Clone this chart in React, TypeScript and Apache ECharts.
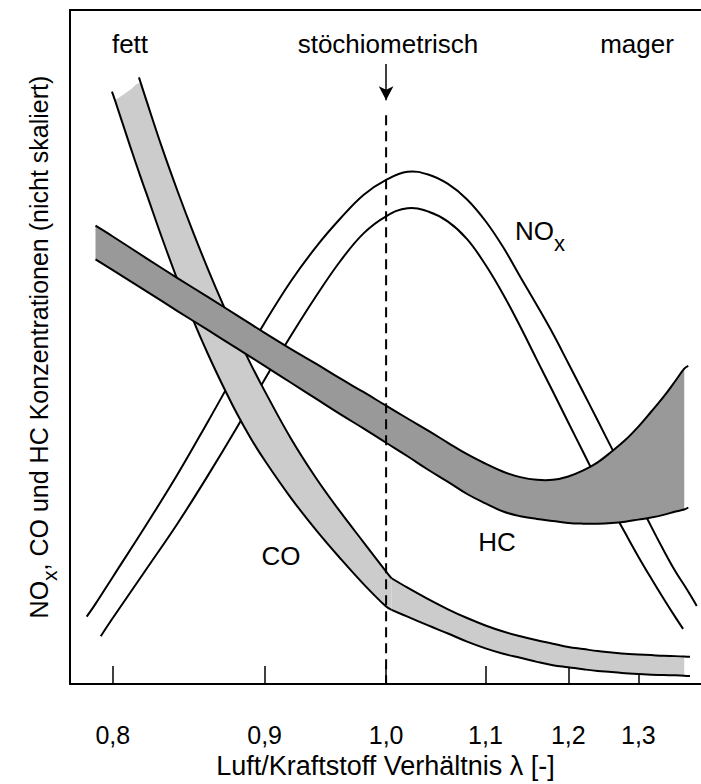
import React, { useEffect, useRef } from "react";
import * as echarts from "echarts";

const FONT = "'Liberation Sans', Arial, Helvetica, sans-serif";

// x axis (λ) – reciprocal scale
const tickLambdas = [0.8, 0.9, 1.0, 1.1, 1.2, 1.3];
const lambdaMin = 0.7757;
const lambdaMax = 1.4046;
const stoichLambda = 1.0;
const dashedTop = 84.4;
const arrowFrom = 92.0;
const arrowTo = 86.6;

// NOx (two outline curves)
const noxOuterLambda = [0.785, 0.79, 0.8, 0.82, 0.84, 0.86, 0.88, 0.9, 0.92, 0.94, 0.96, 0.98, 1.0, 1.02, 1.04, 1.06, 1.08, 1.1, 1.12, 1.14, 1.16, 1.18, 1.2, 1.22, 1.24, 1.26, 1.28, 1.3, 1.32, 1.34, 1.36, 1.38, 1.397];
const noxOuter = [10.0, 11.9, 15.9, 23.6, 31.2, 39.0, 46.6, 53.6, 59.8, 64.9, 69.1, 72.6, 74.8, 76.0, 75.6, 74.2, 71.9, 68.7, 64.8, 60.4, 56.2, 52.0, 47.6, 43.3, 39.1, 35.0, 31.1, 27.2, 23.4, 19.9, 16.7, 14.0, 11.6];
const noxInnerLambda = [0.793, 0.8, 0.82, 0.84, 0.86, 0.88, 0.9, 0.92, 0.94, 0.96, 0.98, 1.0, 1.02, 1.04, 1.06, 1.08, 1.1, 1.12, 1.14, 1.16, 1.18, 1.2, 1.22, 1.24, 1.26, 1.28, 1.3, 1.32, 1.34, 1.36, 1.373];
const noxInner = [7.1, 9.8, 17.0, 23.9, 31.0, 38.1, 45.2, 51.7, 57.6, 62.8, 66.9, 69.4, 70.6, 70.1, 68.6, 66.0, 62.2, 57.8, 53.0, 48.1, 43.4, 38.8, 34.4, 30.1, 26.1, 22.4, 18.9, 15.7, 12.7, 9.9, 8.2];

// CO band, rich side (λ <= 1.005)
const coRichLambda = [0.8013, 0.81, 0.8162, 0.82, 0.83, 0.84, 0.85, 0.86, 0.87, 0.88, 0.89, 0.9, 0.92, 0.94, 0.96, 0.98, 1.0, 1.005];
const coRichUpperFill = [86.6, 88.1, 89.1, 86.7, 79.5, 73.0, 67.0, 61.5, 56.4, 51.7, 47.4, 43.5, 36.4, 30.5, 25.5, 21.0, 16.7, 15.7];
const coRichLower = [86.6, 80.0, 75.5, 72.9, 66.1, 59.8, 54.0, 48.9, 44.3, 40.1, 36.4, 33.2, 27.6, 22.8, 18.6, 14.8, 11.5, 11.0];
const coRichLowerHeadLambda = [0.7995];
const coRichLowerHead = [87.9];
const coRichEdgeLambda = [0.8156, 0.82, 0.83, 0.84, 0.85, 0.86, 0.87, 0.88, 0.89, 0.9, 0.92, 0.94, 0.96, 0.98, 1.0, 1.005];
const coRichEdge = [90.0, 86.7, 79.5, 73.0, 67.0, 61.5, 56.4, 51.7, 47.4, 43.5, 36.4, 30.5, 25.5, 21.0, 16.7, 15.7];

// CO band, lean side (λ >= 1.005)
const coLeanLambda = [1.005, 1.02, 1.04, 1.06, 1.08, 1.1, 1.12, 1.14, 1.16, 1.18, 1.2, 1.22, 1.24, 1.26, 1.28, 1.3, 1.32, 1.34, 1.36, 1.375];
const coLeanUpper = [15.7, 14.3, 12.6, 11.1, 9.8, 8.7, 7.8, 7.1, 6.5, 6.0, 5.5, 5.2, 4.9, 4.7, 4.5, 4.4, 4.3, 4.2, 4.15, 4.1];
const coLeanLower = [11.0, 10.0, 8.7, 7.5, 6.3, 5.3, 4.5, 3.9, 3.3, 2.8, 2.5, 2.2, 1.95, 1.8, 1.6, 1.5, 1.4, 1.35, 1.3, 1.25];
const coLeanTailLambda = [1.385];
const coLeanUpperTail = [4.05];
const coLeanLowerTail = [1.2];

// HC band
const hcLambda = [0.79, 0.8, 0.82, 0.84, 0.86, 0.88, 0.9, 0.92, 0.94, 0.96, 0.98, 1.0, 1.02, 1.04, 1.06, 1.08, 1.1, 1.12, 1.14, 1.16, 1.18, 1.2, 1.22, 1.24, 1.26, 1.28, 1.3, 1.32, 1.34, 1.36, 1.375];
const hcUpper = [68.0, 66.4, 63.2, 60.2, 57.4, 54.7, 52.1, 49.7, 47.5, 45.3, 43.3, 41.3, 39.4, 37.6, 35.8, 34.1, 32.7, 31.5, 30.7, 30.3, 30.3, 30.8, 31.7, 32.9, 34.5, 36.2, 38.2, 40.4, 42.6, 45.0, 46.8];
const hcLower = [63.0, 61.4, 58.3, 55.3, 52.5, 49.8, 47.2, 44.7, 42.3, 40.0, 37.9, 35.8, 33.8, 31.8, 30.0, 28.2, 26.8, 25.6, 24.9, 24.5, 24.2, 23.9, 23.8, 23.8, 23.9, 24.1, 24.4, 24.7, 25.1, 25.6, 25.9];
const hcTailLambda = [1.382];
const hcUpperTail = [47.2];
const hcLowerTail = [26.2];

const toX = (l: number) => -1 / l;
const BLACK = "#000";
const LINE_W = 2;
const SMOOTH = 0.4;

// smooth cubic path through pixel points (same construction for fills and strokes)
function smoothD(p: number[][], start: string): string {
  const n = p.length;
  let d = `${start}${p[0][0]},${p[0][1]}`;
  let c0x = p[0][0];
  let c0y = p[0][1];
  for (let k = 1; k < n; k++) {
    const [x, y] = p[k];
    const [px, py] = p[k - 1];
    let c1x = x, c1y = y, n0x = x, n0y = y;
    if (k < n - 1) {
      const [nx, ny] = p[k + 1];
      const vx = nx - px;
      const vy = ny - py;
      const l0 = Math.hypot(x - px, y - py);
      const l1 = Math.hypot(nx - x, ny - y);
      const r = l1 / (l0 + l1);
      c1x = x - vx * SMOOTH * (1 - r);
      c1y = y - vy * SMOOTH * (1 - r);
      n0x = x + vx * SMOOTH * r;
      n0y = y + vy * SMOOTH * r;
    }
    d += ` C${c0x},${c0y} ${c1x},${c1y} ${x},${y}`;
    c0x = n0x;
    c0y = n0y;
  }
  return d;
}

function curveSeries(name: string, lambdas: number[], values: number[], z: number) {
  return {
    type: "custom",
    name,
    silent: true,
    z,
    clip: true,
    data: lambdas.map((l, i) => [toX(l), values[i]]),
    encode: { x: 0, y: 1 },
    renderItem: (params: any, api: any) => {
      if (params.dataIndexInside !== 0) return null;
      const p: number[][] = [];
      for (let i = 0; i < params.dataInsideLength; i++) {
        p.push(api.coord([api.value(0, i), api.value(1, i)]));
      }
      return {
        type: "path",
        shape: { pathData: smoothD(p, "M") },
        style: { fill: "none", stroke: BLACK, lineWidth: LINE_W, lineJoin: "round" },
      };
    },
  };
}

function bandSeries(name: string, lambdas: number[], upper: number[], lower: number[], color: string, z: number) {
  return {
    type: "custom",
    name,
    silent: true,
    z,
    clip: true,
    data: lambdas.map((l, i) => [toX(l), upper[i], lower[i]]),
    encode: { x: 0, y: [1, 2] },
    renderItem: (params: any, api: any) => {
      if (params.dataIndexInside !== 0) return null;
      const up: number[][] = [];
      const lo: number[][] = [];
      for (let i = 0; i < params.dataInsideLength; i++) {
        const t = api.value(0, i);
        up.push(api.coord([t, api.value(1, i)]));
        lo.push(api.coord([t, api.value(2, i)]));
      }
      const d = smoothD(up, "M") + " " + smoothD(lo.slice().reverse(), "L") + " Z";
      return {
        type: "path",
        shape: { pathData: d },
        style: { fill: color, stroke: "none" },
      };
    },
  };
}

export default function App() {
  const ref = useRef<HTMLDivElement>(null);
  useEffect(() => {
    if (!ref.current) return;
    const chart = echarts.init(ref.current, null, { renderer: "svg" });
    const tickValues = tickLambdas.map(toX);
    const option: any = {
      animation: false,
      backgroundColor: "#fff",
      textStyle: { fontFamily: FONT },
      grid: { left: 70, right: 0, top: 10, bottom: 87 },
      xAxis: [
        {
          type: "value",
          position: "bottom",
          min: toX(lambdaMin),
          max: toX(lambdaMax),
          axisLine: { show: true, onZero: false, lineStyle: { color: BLACK, width: 2 } },
          axisTick: { show: true, inside: true, length: 18, customValues: tickValues, lineStyle: { color: BLACK, width: 1.5 } },
          axisLabel: {
            customValues: tickValues,
            formatter: (v: number) => (-1 / v).toFixed(1).replace(".", ","),
            fontSize: 25,
            color: BLACK,
            fontFamily: FONT,
            margin: 38,
          },
          splitLine: { show: false },
          name: "Luft/Kraftstoff Verhältnis λ [-]",
          nameLocation: "middle",
          nameGap: 61,
          nameTextStyle: { fontSize: 27, color: BLACK, fontFamily: FONT },
        },
        {
          type: "value",
          position: "top",
          min: toX(lambdaMin),
          max: toX(lambdaMax),
          axisLine: { show: true, onZero: false, lineStyle: { color: BLACK, width: 2 } },
          axisTick: { show: false },
          axisLabel: { show: false },
          splitLine: { show: false },
        },
      ],
      yAxis: {
        type: "value",
        min: 0,
        max: 100,
        axisLine: { show: true, lineStyle: { color: BLACK, width: 2 } },
        axisTick: { show: false },
        axisLabel: { show: false },
        splitLine: { show: false },
        name: "{a|NO}{b|x}{a|, CO und HC Konzentrationen (nicht skaliert)}",
        nameLocation: "middle",
        nameRotate: 90,
        nameGap: 8,
        nameTextStyle: {
          color: BLACK,
          fontSize: 25,
          fontFamily: FONT,
          rich: {
            a: { fontSize: 25, color: BLACK, fontFamily: FONT, padding: [0, 0, 11, 0] },
            b: { fontSize: 21, color: BLACK, fontFamily: FONT, padding: [11, 0, 0, 0] },
          },
        },
      },
      series: [
        curveSeries("NOx oben", noxOuterLambda, noxOuter, 2),
        curveSeries("NOx unten", noxInnerLambda, noxInner, 2),
        // CO band
        bandSeries("CO fett Band", coRichLambda, coRichUpperFill, coRichLower, "#cccccc", 3),
        bandSeries("CO mager Band", coLeanLambda, coLeanUpper, coLeanLower, "#cccccc", 3),
        curveSeries("CO fett unten", [...coRichLowerHeadLambda, ...coRichLambda], [...coRichLowerHead, ...coRichLower], 4),
        curveSeries("CO fett oben", coRichEdgeLambda, coRichEdge, 4),
        curveSeries("CO mager unten", [...coLeanLambda, ...coLeanTailLambda], [...coLeanLower, ...coLeanLowerTail], 4),
        curveSeries("CO mager oben", [...coLeanLambda, ...coLeanTailLambda], [...coLeanUpper, ...coLeanUpperTail], 4),
        // HC band
        bandSeries("HC Band", hcLambda, hcUpper, hcLower, "#999999", 5),
        curveSeries("HC unten", [...hcLambda, ...hcTailLambda], [...hcLower, ...hcLowerTail], 6),
        curveSeries("HC oben", [...hcLambda, ...hcTailLambda], [...hcUpper, ...hcUpperTail], 6),
        {
          name: "stöchiometrisch",
          type: "line",
          data: [[toX(stoichLambda), dashedTop], [toX(stoichLambda), 0]],
          symbol: "none",
          silent: true,
          z: 7,
          lineStyle: { color: BLACK, width: 2, type: [10, 6] },
          markLine: {
            silent: true,
            symbol: ["none", "arrow"],
            symbolSize: [11, 14],
            label: { show: false },
            lineStyle: { color: BLACK, width: 1.5, type: "solid" },
            data: [[{ coord: [toX(stoichLambda), arrowFrom] }, { coord: [toX(stoichLambda), arrowTo] }]],
          },
        },
      ],
      graphic: [
        { type: "text", x: 130, y: 44, style: { text: "fett", fontSize: 26, fontFamily: FONT, fill: BLACK, align: "center", verticalAlign: "middle", textAlign: "center", textVerticalAlign: "middle" } },
        { type: "text", x: 388, y: 44, style: { text: "stöchiometrisch", fontSize: 26, fontFamily: FONT, fill: BLACK, align: "center", verticalAlign: "middle", textAlign: "center", textVerticalAlign: "middle" } },
        { type: "text", x: 637, y: 44, style: { text: "mager", fontSize: 26, fontFamily: FONT, fill: BLACK, align: "center", verticalAlign: "middle", textAlign: "center", textVerticalAlign: "middle" } },
        { type: "text", x: 281, y: 556, style: { text: "CO", fontSize: 26, fontFamily: FONT, fill: BLACK, align: "center", verticalAlign: "middle", textAlign: "center", textVerticalAlign: "middle" } },
        { type: "text", x: 497, y: 542, style: { text: "HC", fontSize: 26, fontFamily: FONT, fill: BLACK, align: "center", verticalAlign: "middle", textAlign: "center", textVerticalAlign: "middle" } },
        {
          type: "text",
          x: 515,
          y: 218,
          style: {
            text: "{a|NO}{b|x}",
            fontSize: 26,
            fontFamily: FONT,
            fill: BLACK,
            align: "left",
            verticalAlign: "top",
            textAlign: "left",
            textVerticalAlign: "top",
            rich: {
              a: { fontSize: 26, fontFamily: FONT, fill: BLACK, color: BLACK, padding: [0, 0, 12, 0] },
              b: { fontSize: 22, fontFamily: FONT, fill: BLACK, color: BLACK, padding: [12, 0, 0, 0] },
            },
          },
        },
      ],
    };
    chart.setOption(option);
    return () => chart.dispose();
  }, []);
  return (
    <div
      ref={ref}
      style={{ position: "fixed", left: 0, top: 0, width: 701, height: 784, background: "#fff" }}
    />
  );
}
